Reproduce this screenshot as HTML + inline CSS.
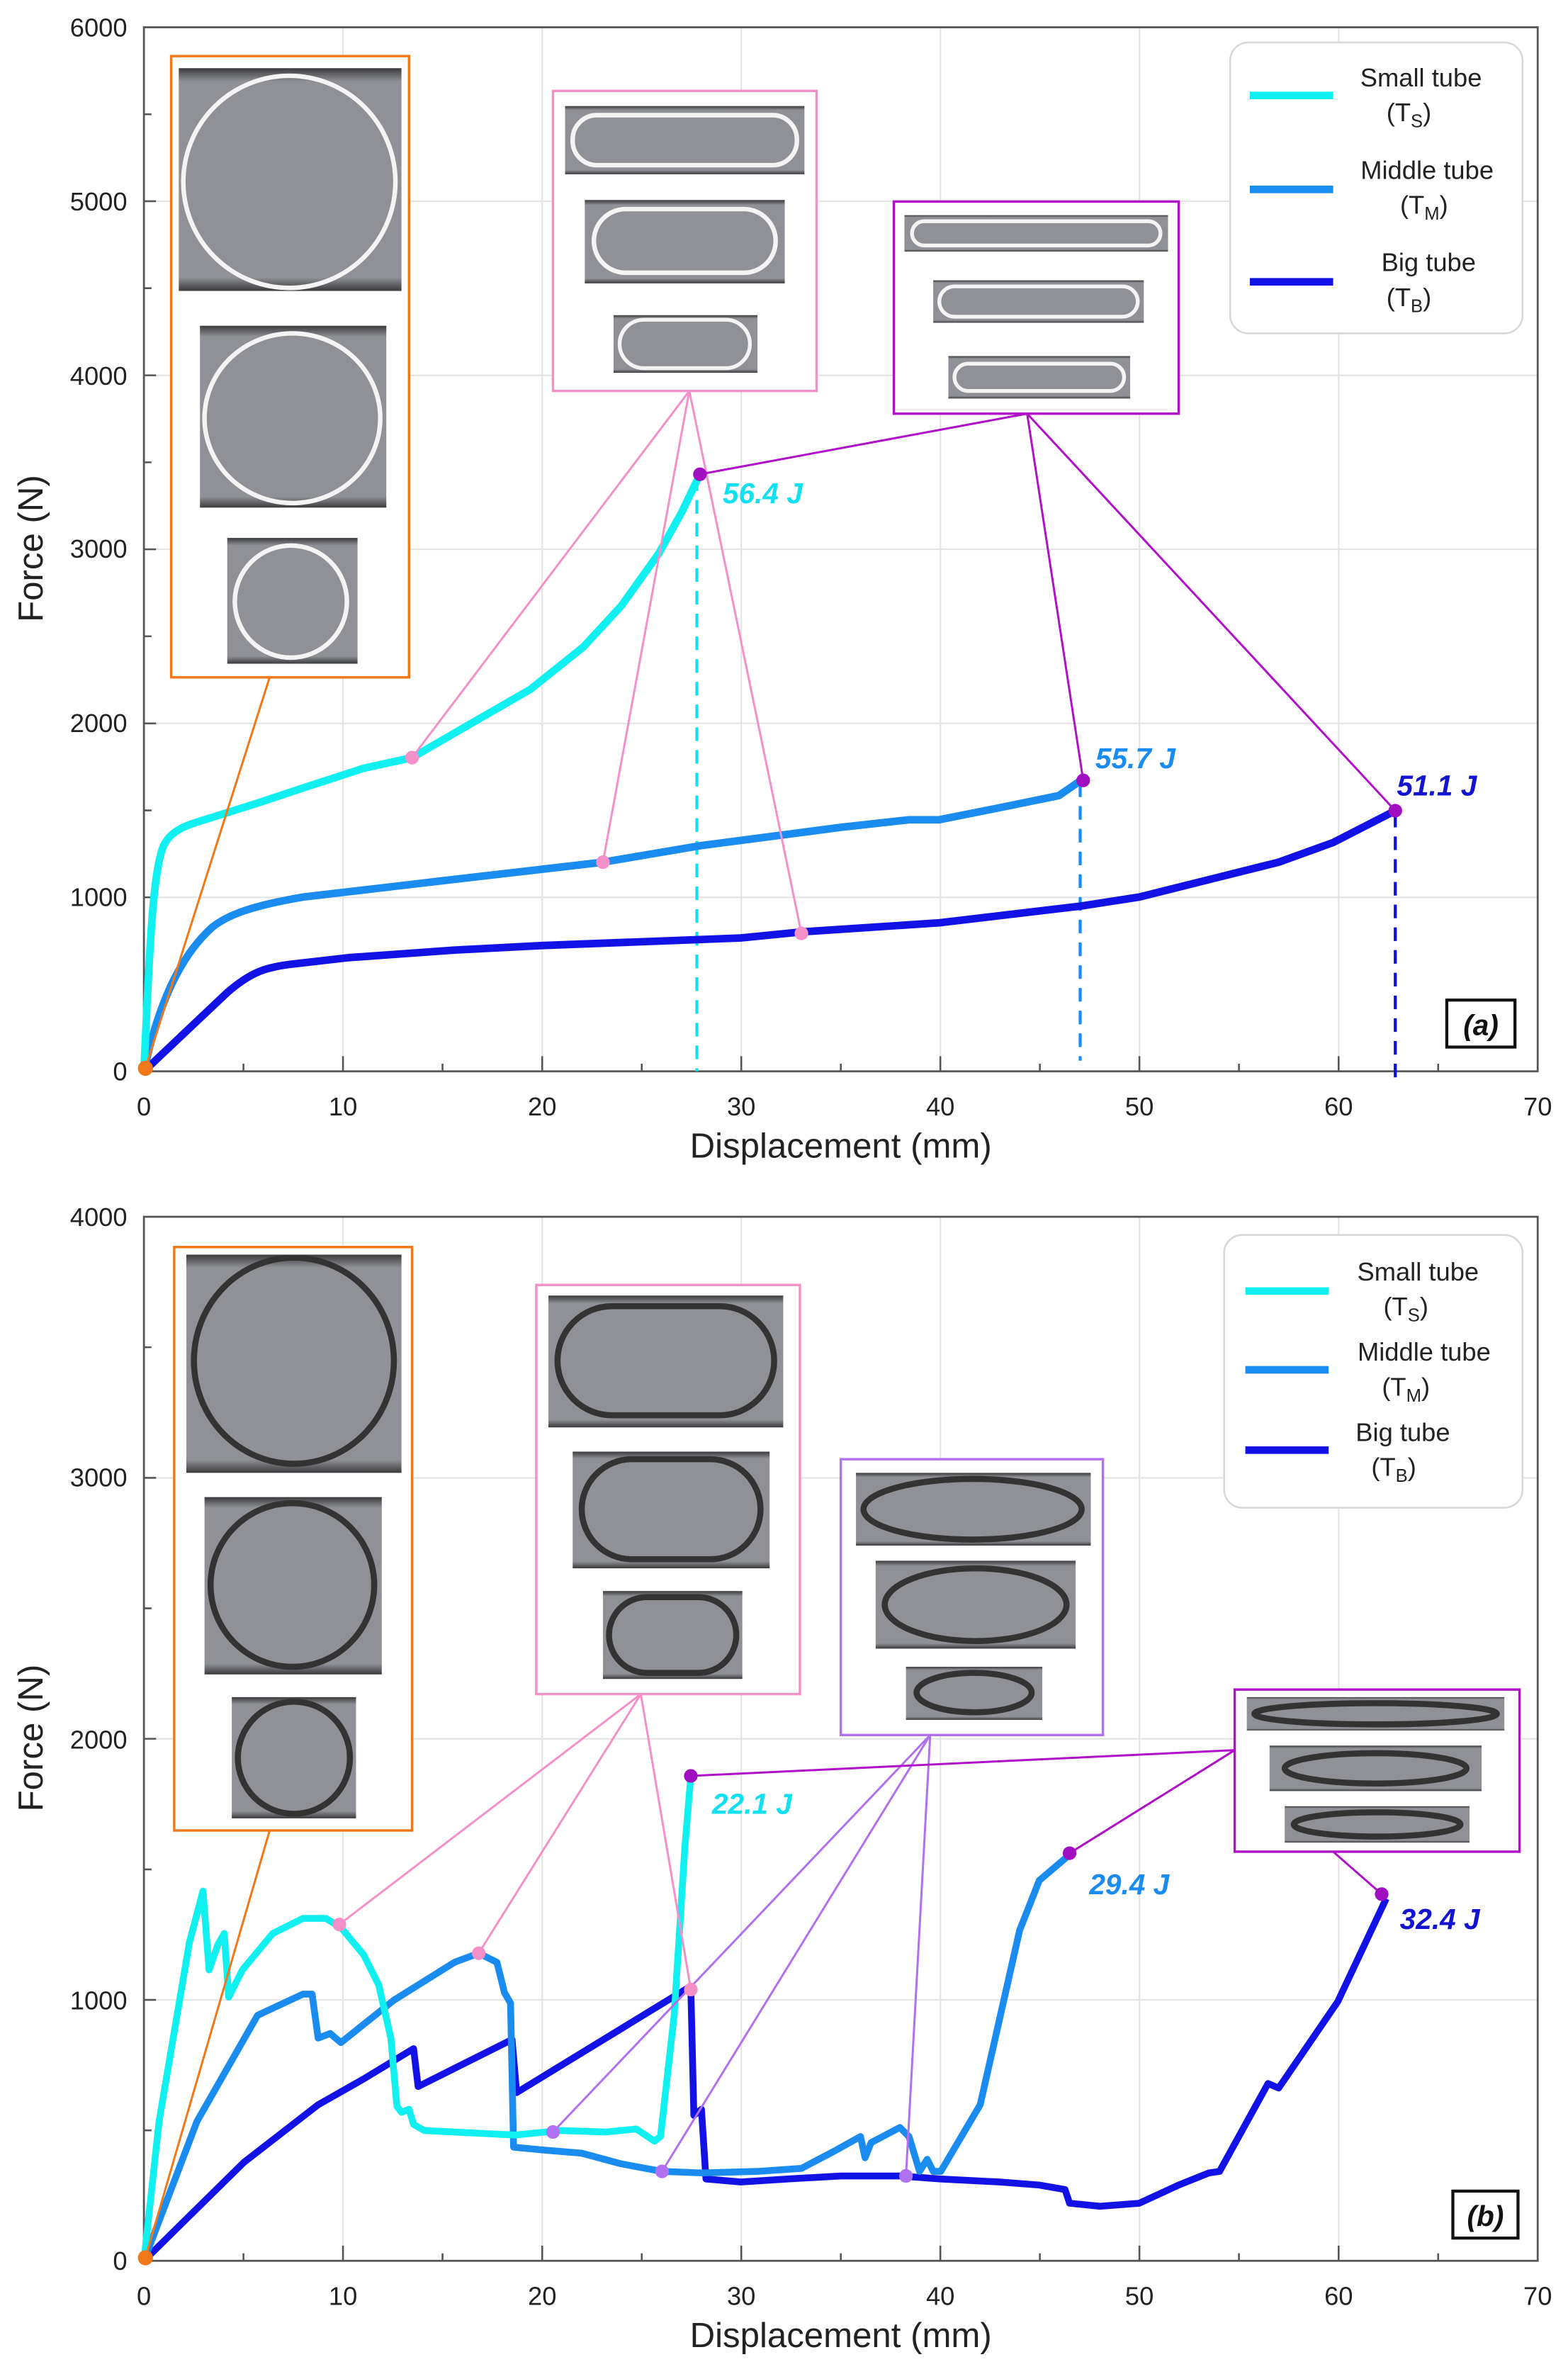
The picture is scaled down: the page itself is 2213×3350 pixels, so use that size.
<!DOCTYPE html>
<html><head><meta charset="utf-8"><style>
html,body{margin:0;padding:0;background:#fff}
svg{display:block}
text{font-family:"Liberation Sans",Arial,sans-serif}
</style></head><body>
<svg width="2213" height="3350" viewBox="0 0 1035 1566.7" preserveAspectRatio="none" xmlns="http://www.w3.org/2000/svg">
<defs>
<linearGradient id="ph" x1="0" y1="0" x2="0" y2="1"><stop offset="0" stop-color="#3a3a3c"/><stop offset="0.06" stop-color="#8f9196"/><stop offset="0.94" stop-color="#8f9196"/><stop offset="1" stop-color="#3a3a3c"/></linearGradient>
</defs>
<rect width="1035" height="1567" fill="#fff"/>

<!-- ========== PANEL A ========== -->
<g>
<g stroke="#e4e4e4" stroke-width="1">
<path d="M226.4,18V707M357.9,18V707M489.3,18V707M620.7,18V707M752.1,18V707M883.6,18V707"/>
<path d="M95,592.2H1015M95,477.4H1015M95,362.5H1015M95,247.7H1015M95,132.8H1015"/>
</g>
<rect x="95" y="18" width="920" height="689" fill="none" stroke="#555" stroke-width="1.3"/>
<g stroke="#555" stroke-width="1.2">
<path d="M226.4,707v-10M357.9,707v-10M489.3,707v-10M620.7,707v-10M752.1,707v-10M883.6,707v-10M160.7,707v-5M292.1,707v-5M423.6,707v-5M555,707v-5M686.4,707v-5M817.8,707v-5M949.3,707v-5"/>
<path d="M95,592.2h8M95,477.4h8M95,362.5h8M95,247.7h8M95,132.8h8M95,649.6h5M95,534.8h5M95,419.9h5M95,305.1h5M95,190.2h5M95,75.4h5"/>
</g>
<g font-size="17" fill="#222" text-anchor="middle">
<text x="95" y="736">0</text><text x="226.4" y="736">10</text><text x="357.9" y="736">20</text><text x="489.3" y="736">30</text><text x="620.7" y="736">40</text><text x="752.1" y="736">50</text><text x="883.6" y="736">60</text><text x="1015" y="736">70</text>
</g>
<g font-size="17" fill="#222" text-anchor="end">
<text x="84" y="713">0</text><text x="84" y="598">1000</text><text x="84" y="483">2000</text><text x="84" y="368">3000</text><text x="84" y="254">4000</text><text x="84" y="139">5000</text><text x="84" y="24">6000</text>
</g>
<text x="555" y="764" font-size="23" text-anchor="middle" fill="#222">Displacement (mm)</text>
<text transform="translate(28,362) rotate(-90)" font-size="23" text-anchor="middle" fill="#222">Force (N)</text>

<g stroke-width="2" stroke-dasharray="9,6" fill="none">
<path d="M460,315V707" stroke="#10e0f0"/>
<path d="M713,517V700" stroke="#1a8cf0"/>
<path d="M921,537V715" stroke="#1010d8"/>
</g>
<g fill="none" stroke-width="5" stroke-linejoin="round" stroke-linecap="round">
<path d="M95,707 L150,655 C165,642 175,638 195,636 L230,632 L300,627 L358,624 L489,619 L529,615 L620,609 L713,598 L752,592 L800,580 L844,569 L880,556 L921,535" stroke="#1212e6"/>
<path d="M95,707 C105,660 120,630 140,612 C150,604 165,598 200,592 L260,585 L320,578 L398,569 L463,558 L555,546 L600,541 L620,541 L660,533 L699,525 L715,514" stroke="#1a8cf0"/>
<path d="M95,707 C99,620 101,575 108,558 C113,548 122,545 135,541 L170,530 L200,520 L240,507 L272,500 L310,478 L350,455 L385,427 L410,400 L435,365 L450,338 L462,313" stroke="#10f0f0"/>
</g>
<g fill="none" stroke-width="1.4">
<path d="M178,447L96,705" stroke="#f07818"/>
<path d="M455,258L272,500M455,258L398,569M455,258L529,616" stroke="#f490c8"/>
<path d="M678,273L462,313M678,273L715,515M678,273L921,535" stroke="#b010c8"/>
</g>
<circle cx="96" cy="705" r="5" fill="#f07818"/>
<g fill="#f490c8"><circle cx="272" cy="500" r="4.5"/><circle cx="398" cy="569" r="4.5"/><circle cx="529" cy="616" r="4.5"/></g>
<g fill="#a010c0"><circle cx="462" cy="313" r="4.5"/><circle cx="715" cy="515" r="4.5"/><circle cx="921" cy="535" r="4.5"/></g>
<g font-size="19" font-weight="bold" font-style="italic">
<text x="477" y="332" fill="#10e0f0">56.4 J</text>
<text x="723" y="507" fill="#1a8cf0">55.7 J</text>
<text x="922" y="525" fill="#1414d0">51.1 J</text>
</g>
<rect x="955" y="660" width="45" height="31" fill="#fff" stroke="#111" stroke-width="2"/>
<text x="977.5" y="683" font-size="19" font-weight="bold" font-style="italic" text-anchor="middle" fill="#111">(a)</text>

<rect x="113" y="37" width="157" height="410" fill="#fff" stroke="#f07818" stroke-width="1.6"/>
<rect x="118" y="45" width="147" height="147" fill="url(#ph)"/><ellipse cx="191" cy="120" rx="70" ry="70" fill="none" stroke="#f4f4f4" stroke-width="3"/>
<rect x="132" y="215" width="123" height="120" fill="url(#ph)"/><ellipse cx="193" cy="276" rx="58" ry="56" fill="none" stroke="#f4f4f4" stroke-width="3"/>
<rect x="150" y="355" width="86" height="83" fill="url(#ph)"/><ellipse cx="192" cy="397" rx="37" ry="37" fill="none" stroke="#f4f4f4" stroke-width="3"/>

<rect x="365" y="60" width="174" height="198" fill="#fff" stroke="#f490c8" stroke-width="1.6"/>
<rect x="373" y="70" width="158" height="45" fill="url(#ph)"/><rect x="378" y="76" width="148" height="33" rx="16" fill="none" stroke="#f4f4f4" stroke-width="3"/>
<rect x="386" y="132" width="132" height="55" fill="url(#ph)"/><rect x="392" y="138" width="120" height="42" rx="21" fill="none" stroke="#f4f4f4" stroke-width="3"/>
<rect x="405" y="208" width="95" height="38" fill="url(#ph)"/><rect x="409" y="211" width="86" height="32" rx="16" fill="none" stroke="#f4f4f4" stroke-width="2.5"/>

<rect x="590" y="133" width="188" height="140" fill="#fff" stroke="#b010c8" stroke-width="1.6"/>
<rect x="597" y="142" width="174" height="24" fill="url(#ph)"/><rect x="602" y="146" width="164" height="16" rx="8" fill="none" stroke="#f4f4f4" stroke-width="2.5"/>
<rect x="616" y="185" width="139" height="28" fill="url(#ph)"/><rect x="620" y="189" width="131" height="20" rx="10" fill="none" stroke="#f4f4f4" stroke-width="2.5"/>
<rect x="626" y="235" width="120" height="28" fill="url(#ph)"/><rect x="630" y="240" width="112" height="18" rx="9" fill="none" stroke="#f4f4f4" stroke-width="2.5"/>

<rect x="812" y="28" width="193" height="192" rx="12" fill="#fff" stroke="#d8d8d8" stroke-width="1.2"/>
<g stroke-width="5"><path d="M825,63H880" stroke="#10f0f0"/><path d="M825,125H880" stroke="#1a8cf0"/><path d="M825,186H880" stroke="#1212e6"/></g>
<g font-size="17" fill="#222" text-anchor="middle">
<text x="938" y="57">Small tube</text><text x="930" y="80">(T<tspan font-size="12" dy="4">S</tspan><tspan dy="-4">)</tspan></text>
<text x="942" y="118">Middle tube</text><text x="940" y="141">(T<tspan font-size="12" dy="4">M</tspan><tspan dy="-4">)</tspan></text>
<text x="943" y="179">Big tube</text><text x="930" y="202">(T<tspan font-size="12" dy="4">B</tspan><tspan dy="-4">)</tspan></text>
</g>
</g>

<!-- ========== PANEL B ========== -->
<g>
<g stroke="#e4e4e4" stroke-width="1">
<path d="M226.4,803V1492M357.9,803V1492M489.3,803V1492M620.7,803V1492M752.1,803V1492M883.6,803V1492"/>
<path d="M95,1319.8H1015M95,1147.5H1015M95,975.3H1015"/>
</g>
<rect x="95" y="803" width="920" height="689" fill="none" stroke="#555" stroke-width="1.3"/>
<g stroke="#555" stroke-width="1.2">
<path d="M226.4,1492v-10M357.9,1492v-10M489.3,1492v-10M620.7,1492v-10M752.1,1492v-10M883.6,1492v-10M160.7,1492v-5M292.1,1492v-5M423.6,1492v-5M555,1492v-5M686.4,1492v-5M817.8,1492v-5M949.3,1492v-5"/>
<path d="M95,1319.8h8M95,1147.5h8M95,975.3h8M95,1405.9h5M95,1233.7h5M95,1061.4h5M95,889.1h5"/>
</g>
<g font-size="17" fill="#222" text-anchor="middle">
<text x="95" y="1521">0</text><text x="226.4" y="1521">10</text><text x="357.9" y="1521">20</text><text x="489.3" y="1521">30</text><text x="620.7" y="1521">40</text><text x="752.1" y="1521">50</text><text x="883.6" y="1521">60</text><text x="1015" y="1521">70</text>
</g>
<g font-size="17" fill="#222" text-anchor="end">
<text x="84" y="1498">0</text><text x="84" y="1326">1000</text><text x="84" y="1154">2000</text><text x="84" y="981">3000</text><text x="84" y="809">4000</text>
</g>
<text x="555" y="1549" font-size="23" text-anchor="middle" fill="#222">Displacement (mm)</text>
<text transform="translate(28,1147) rotate(-90)" font-size="23" text-anchor="middle" fill="#222">Force (N)</text>

<g fill="none" stroke-width="4.5" stroke-linejoin="round">
<path d="M95,1492 L161,1427 L210,1389 L240,1372 L273,1352 L276,1377 L338,1346 L341,1381 L454,1312 L456,1312 L458,1396 L463,1392 L466,1438 L489,1440 L520,1438 L555,1436 L594,1436 L621,1438 L660,1440 L686,1442 L703,1445 L706,1454 L726,1456 L752,1454 L778,1442 L798,1434 L805,1433 L837,1375 L844,1378 L883,1321 L915,1253" stroke="#1212e6"/>
<path d="M95,1492 L130,1400 L170,1330 L200,1316 L206,1316 L210,1345 L218,1342 L225,1348 L260,1320 L300,1295 L316,1289 L328,1295 L333,1315 L337,1322 L339,1417 L360,1419 L384,1421 L410,1428 L437,1433 L463,1434 L500,1433 L529,1431 L550,1420 L568,1410 L571,1424 L575,1414 L594,1404 L600,1410 L607,1433 L612,1425 L616,1433 L621,1433 L647,1389 L673,1274 L686,1241 L706,1224" stroke="#1a8cf0"/>
<path d="M95,1492 L105,1400 L125,1282 L134,1248 L138,1300 L144,1283 L148,1276 L151,1318 L160,1300 L180,1276 L200,1266 L215,1266 L225,1272 L240,1290 L250,1310 L258,1345 L262,1390 L265,1394 L270,1392 L273,1402 L280,1406 L300,1407 L340,1409 L370,1406 L400,1407 L420,1405 L432,1413 L436,1410 L445,1330 L452,1220 L456,1172" stroke="#10f0f0"/>
</g>
<g fill="none" stroke-width="1.4">
<path d="M178,1208L96,1490" stroke="#f07818"/>
<path d="M423,1118L224,1270M423,1118L316,1289M423,1118L456,1313" stroke="#f490c8"/>
<path d="M614,1145L365,1407M614,1145L437,1433M614,1145L598,1436" stroke="#b070f0"/>
<path d="M815,1155L456,1172M815,1155L706,1223M880,1222L912,1250" stroke="#b010c8"/>
</g>
<circle cx="96" cy="1490" r="5" fill="#f07818"/>
<g fill="#f490c8"><circle cx="224" cy="1270" r="4.5"/><circle cx="316" cy="1289" r="4.5"/><circle cx="456" cy="1313" r="4.5"/></g>
<g fill="#b070f0"><circle cx="365" cy="1407" r="4.5"/><circle cx="437" cy="1433" r="4.5"/><circle cx="598" cy="1436" r="4.5"/></g>
<g fill="#a010c0"><circle cx="456" cy="1172" r="4.5"/><circle cx="706" cy="1223" r="4.5"/><circle cx="912" cy="1250" r="4.5"/></g>
<g font-size="19" font-weight="bold" font-style="italic">
<text x="470" y="1197" fill="#10e0f0">22.1 J</text>
<text x="719" y="1250" fill="#1a8cf0">29.4 J</text>
<text x="924" y="1273" fill="#1414d0">32.4 J</text>
</g>
<rect x="959" y="1446" width="43" height="31" fill="#fff" stroke="#111" stroke-width="2"/>
<text x="980.5" y="1469" font-size="19" font-weight="bold" font-style="italic" text-anchor="middle" fill="#111">(b)</text>

<rect x="115" y="823" width="157" height="385" fill="#fff" stroke="#f07818" stroke-width="1.6"/>
<rect x="123" y="828" width="142" height="144" fill="url(#ph)"/><ellipse cx="194" cy="898" rx="66" ry="68" fill="none" stroke="#333" stroke-width="4"/>
<rect x="135" y="988" width="117" height="117" fill="url(#ph)"/><ellipse cx="193" cy="1046" rx="54" ry="54" fill="none" stroke="#333" stroke-width="4"/>
<rect x="153" y="1120" width="82" height="80" fill="url(#ph)"/><ellipse cx="194" cy="1160" rx="37" ry="37" fill="none" stroke="#333" stroke-width="4"/>

<rect x="354" y="848" width="174" height="270" fill="#fff" stroke="#f490c8" stroke-width="1.6"/>
<rect x="362" y="855" width="155" height="87" fill="url(#ph)"/><rect x="368" y="862" width="143" height="72" rx="36" fill="none" stroke="#333" stroke-width="4"/>
<rect x="378" y="958" width="130" height="77" fill="url(#ph)"/><rect x="384" y="963" width="118" height="66" rx="33" fill="none" stroke="#333" stroke-width="4"/>
<rect x="398" y="1050" width="92" height="58" fill="url(#ph)"/><rect x="402" y="1054" width="84" height="50" rx="25" fill="none" stroke="#333" stroke-width="4"/>

<rect x="555" y="963" width="173" height="182" fill="#fff" stroke="#b070f0" stroke-width="1.6"/>
<rect x="565" y="972" width="155" height="48" fill="url(#ph)"/><ellipse cx="642" cy="996" rx="72" ry="20" fill="none" stroke="#333" stroke-width="4"/>
<rect x="578" y="1030" width="132" height="58" fill="url(#ph)"/><ellipse cx="644" cy="1059" rx="60" ry="24" fill="none" stroke="#333" stroke-width="4"/>
<rect x="598" y="1100" width="90" height="35" fill="url(#ph)"/><ellipse cx="643" cy="1117" rx="38" ry="13" fill="none" stroke="#333" stroke-width="4"/>

<rect x="815" y="1115" width="188" height="107" fill="#fff" stroke="#b010c8" stroke-width="1.6"/>
<rect x="823" y="1120" width="170" height="22" fill="url(#ph)"/><ellipse cx="908" cy="1131" rx="80" ry="7" fill="none" stroke="#333" stroke-width="4"/>
<rect x="838" y="1152" width="140" height="30" fill="url(#ph)"/><ellipse cx="908" cy="1167" rx="60" ry="10" fill="none" stroke="#333" stroke-width="4"/>
<rect x="848" y="1192" width="122" height="24" fill="url(#ph)"/><ellipse cx="909" cy="1204" rx="55" ry="8" fill="none" stroke="#333" stroke-width="4"/>

<rect x="808" y="815" width="197" height="180" rx="12" fill="#fff" stroke="#d8d8d8" stroke-width="1.2"/>
<g stroke-width="5"><path d="M822,852H877" stroke="#10f0f0"/><path d="M822,904H877" stroke="#1a8cf0"/><path d="M822,957H877" stroke="#1212e6"/></g>
<g font-size="17" fill="#222" text-anchor="middle">
<text x="936" y="845">Small tube</text><text x="928" y="868">(T<tspan font-size="12" dy="4">S</tspan><tspan dy="-4">)</tspan></text>
<text x="940" y="898">Middle tube</text><text x="928" y="921">(T<tspan font-size="12" dy="4">M</tspan><tspan dy="-4">)</tspan></text>
<text x="926" y="951">Big tube</text><text x="920" y="974">(T<tspan font-size="12" dy="4">B</tspan><tspan dy="-4">)</tspan></text>
</g>
</g>
</svg>
</body></html>
